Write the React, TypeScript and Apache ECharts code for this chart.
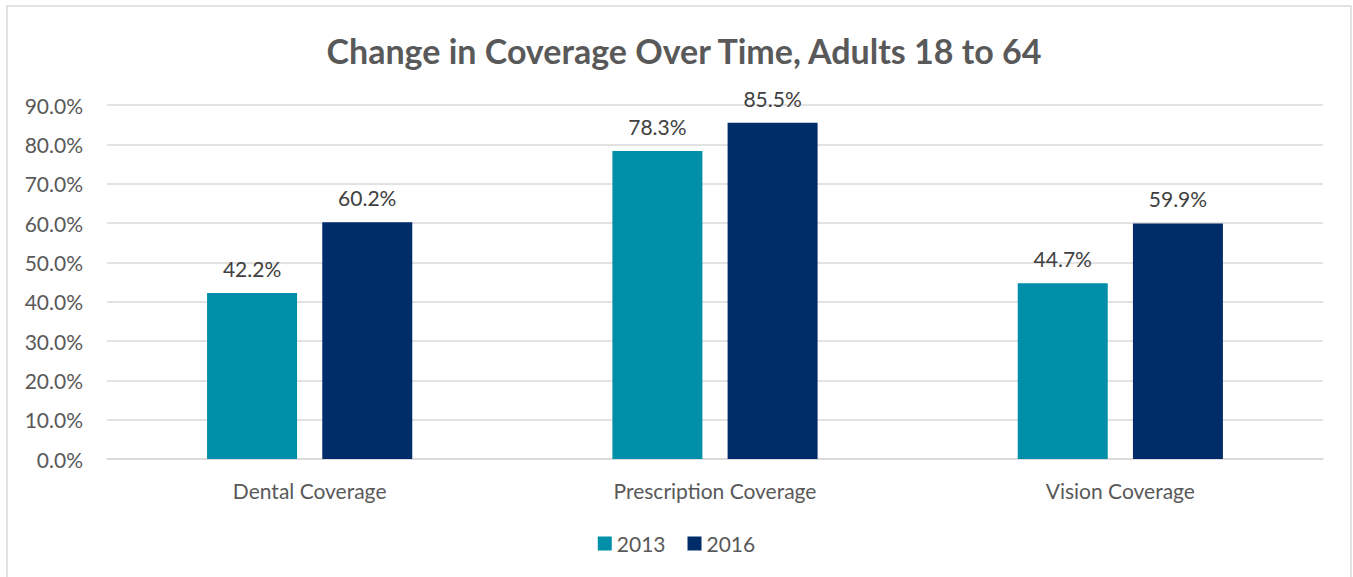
import React, { useEffect, useRef } from "react";
import * as echarts from "echarts";

const categories = ["Dental Coverage", "Prescription Coverage", "Vision Coverage"];
const values2013 = [42.2, 78.3, 44.7];
const values2016 = [60.2, 85.5, 59.9];
const seriesNames = ["2013", "2016"];
const titleText = "Change in Coverage Over Time, Adults 18 to 64";

const FONT = "Lato, 'Open Sans', sans-serif";

export default function App() {
  const ref = useRef<HTMLDivElement>(null);
  useEffect(() => {
    if (!ref.current) return;
    const chart = echarts.init(ref.current, undefined, { renderer: "svg" });
    const label = {
      show: true,
      position: "top",
      distance: 14,
      color: "#404040",
      fontSize: 21,
      fontFamily: FONT,
      formatter: (p: any) => p.value.toFixed(1) + "%",
    };
    chart.setOption({
      animation: false,
      backgroundColor: "#ffffff",
      title: {
        text: titleText,
        left: 679,
        top: 28,
        textAlign: "center",
        textStyle: { color: "#595959", fontSize: 34, fontWeight: "bold", fontFamily: FONT },
      },
      graphic: [
        {
          type: "rect",
          shape: { x: 7, y: 6, width: 1344, height: 600 },
          style: { fill: "none", stroke: "#d9d9d9", lineWidth: 1.5 },
          silent: true,
        },
      ],
      legend: {
        data: seriesNames,
        left: "center",
        top: 528,
        itemWidth: 14,
        itemHeight: 14,
        itemGap: 22,
        icon: "rect",
        textStyle: { color: "#595959", fontSize: 21, fontFamily: FONT },
      },
      grid: { left: 107, right: 30, top: 105, bottom: 118 },
      xAxis: {
        type: "category",
        data: categories,
        axisTick: { show: false },
        axisLine: { lineStyle: { color: "#d9d9d9", width: 1.5 } },
        axisLabel: { color: "#595959", fontSize: 21, fontFamily: FONT, margin: 21 },
      },
      yAxis: {
        type: "value",
        min: 0,
        max: 90,
        interval: 10,
        axisLabel: {
          color: "#595959",
          fontSize: 21,
          fontFamily: FONT,
          margin: 24,
          formatter: (v: number) => v.toFixed(1) + "%",
        },
        splitLine: { lineStyle: { color: "#d9d9d9", width: 1.5 } },
        axisLine: { show: false },
        axisTick: { show: false },
      },
      series: [
        {
          name: seriesNames[0],
          type: "bar",
          data: values2013,
          barWidth: 90,
          barGap: "28%",
          itemStyle: { color: "#008fa9" },
          label,
        },
        {
          name: seriesNames[1],
          type: "bar",
          data: values2016,
          barWidth: 90,
          itemStyle: { color: "#002d6a" },
          label,
        },
      ],
    });
    return () => chart.dispose();
  }, []);
  return (
    <div
      ref={ref}
      style={{ position: "fixed", left: 0, top: 0, width: 1353, height: 577 }}
    />
  );
}
